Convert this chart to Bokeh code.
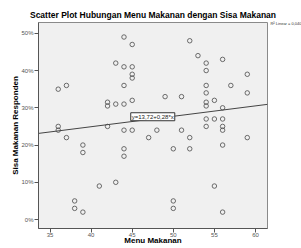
from bokeh.plotting import figure
from bokeh.models import Label, Range1d, FixedTicker, PrintfTickFormatter, Title
from bokeh.embed import file_html
from bokeh.resources import INLINE

# Data
menu_makanan = [36, 37, 36, 36, 37, 38, 38, 39, 39, 39, 41, 42, 42, 42, 43, 43, 43,
                44, 44, 44, 44, 44, 44, 44, 45, 45, 45, 45, 45, 45, 47, 48, 49,
                50, 50, 50, 51, 51, 52, 52, 52, 53, 54, 54, 54, 54, 54, 54, 54,
                54, 55, 55, 55, 56, 56, 56, 56, 56, 56, 56, 57, 59, 59, 59]
sisa_makanan = [35, 36, 25, 24, 22, 5, 3, 2, 20, 18, 9, 31.5, 30.5, 25, 42, 31, 10,
                49, 41, 36, 31, 24, 19, 17, 47, 41, 39, 38, 32, 24, 22, 24, 33,
                19, 5, 3, 33, 24, 48, 22, 19, 44, 42, 40, 36, 34, 31.5, 30.5, 27,
                25, 32, 27, 9, 43, 30, 27, 25, 24, 20, 2, 36, 39, 34, 22]
x_ticks = [35, 40, 45, 50, 55, 60]
y_ticks = [0, 10, 20, 30, 40, 50]
intercept = 13.72
slope = 0.28
eq_label = "y=13,72+0,28*x"
r2_label = "R\u00b2 Linear = 0,040"
title = "Scatter Plot Hubungan Menu Makanan dengan Sisa Makanan"
x_label = "Menu Makanan"
y_label = "Sisa Makanan Responden"

FONT = "Liberation Sans"

x0, x1 = 33.6, 61.46
y0, y1 = -2.4, 52.9

p = figure(width=301, height=248, output_backend="svg", toolbar_location=None,
           x_range=Range1d(x0, x1), y_range=Range1d(y0, y1),
           min_border_left=38, min_border_right=34, min_border_top=22, min_border_bottom=20)
p.title = None

# R² note (nearest the plot area, pushed into the right margin), then the main title
p.add_layout(Title(text=r2_label, align="right", offset=-34, standoff=-6,
                   text_font=FONT, text_font_size="4px", text_font_style="normal",
                   text_color="#333333"), "above")
p.add_layout(Title(text=title, align="center", offset=4, standoff=3,
                   text_font=FONT, text_font_size="8.5px", text_font_style="bold",
                   text_color="#000000"), "above")

p.background_fill_color = "#f0f0f0"
p.border_fill_color = "white"
p.outline_line_color = "#8a8a8a"
p.outline_line_width = 1
p.xgrid.visible = False
p.ygrid.visible = False

for ax in (p.xaxis[0], p.yaxis[0]):
    ax.axis_line_color = "#555555"
    ax.major_tick_line_color = "#555555"
    ax.major_tick_out = 4
    ax.major_tick_in = 0
    ax.minor_tick_line_color = None
    ax.major_label_text_font = FONT
    ax.major_label_text_font_size = "6px"
    ax.major_label_text_color = "#555555"
    ax.axis_label_text_font = FONT
    ax.axis_label_text_font_size = "8px"
    ax.axis_label_text_font_style = "bold"
    ax.axis_label_text_color = "#000000"
p.xaxis.major_label_standoff = 0
p.yaxis.major_label_standoff = 1
p.xaxis.axis_label_standoff = -4
p.yaxis.axis_label_standoff = -2
p.xaxis.axis_label = x_label
p.yaxis.axis_label = y_label

p.xaxis.ticker = FixedTicker(ticks=x_ticks)
p.yaxis.ticker = FixedTicker(ticks=y_ticks)
p.yaxis.formatter = PrintfTickFormatter(format="%d%%")

# regression line from the fitted equation
p.line([x0, x1], [intercept + slope * x0, intercept + slope * x1],
       line_color="#444444", line_width=1)

p.scatter(menu_makanan, sisa_makanan, marker="circle", size=4.5,
          fill_color=None, line_color="#4a4a4a", line_width=0.8)

p.add_layout(Label(x=47.5, y=27.6, text=eq_label, text_align="center",
                   text_baseline="middle", text_font=FONT, text_font_size="6px",
                   text_color="#222222", background_fill_color="white",
                   border_line_color="#333333", border_line_width=1, padding=1))

open("out.html", "w").write(file_html(p, INLINE))
